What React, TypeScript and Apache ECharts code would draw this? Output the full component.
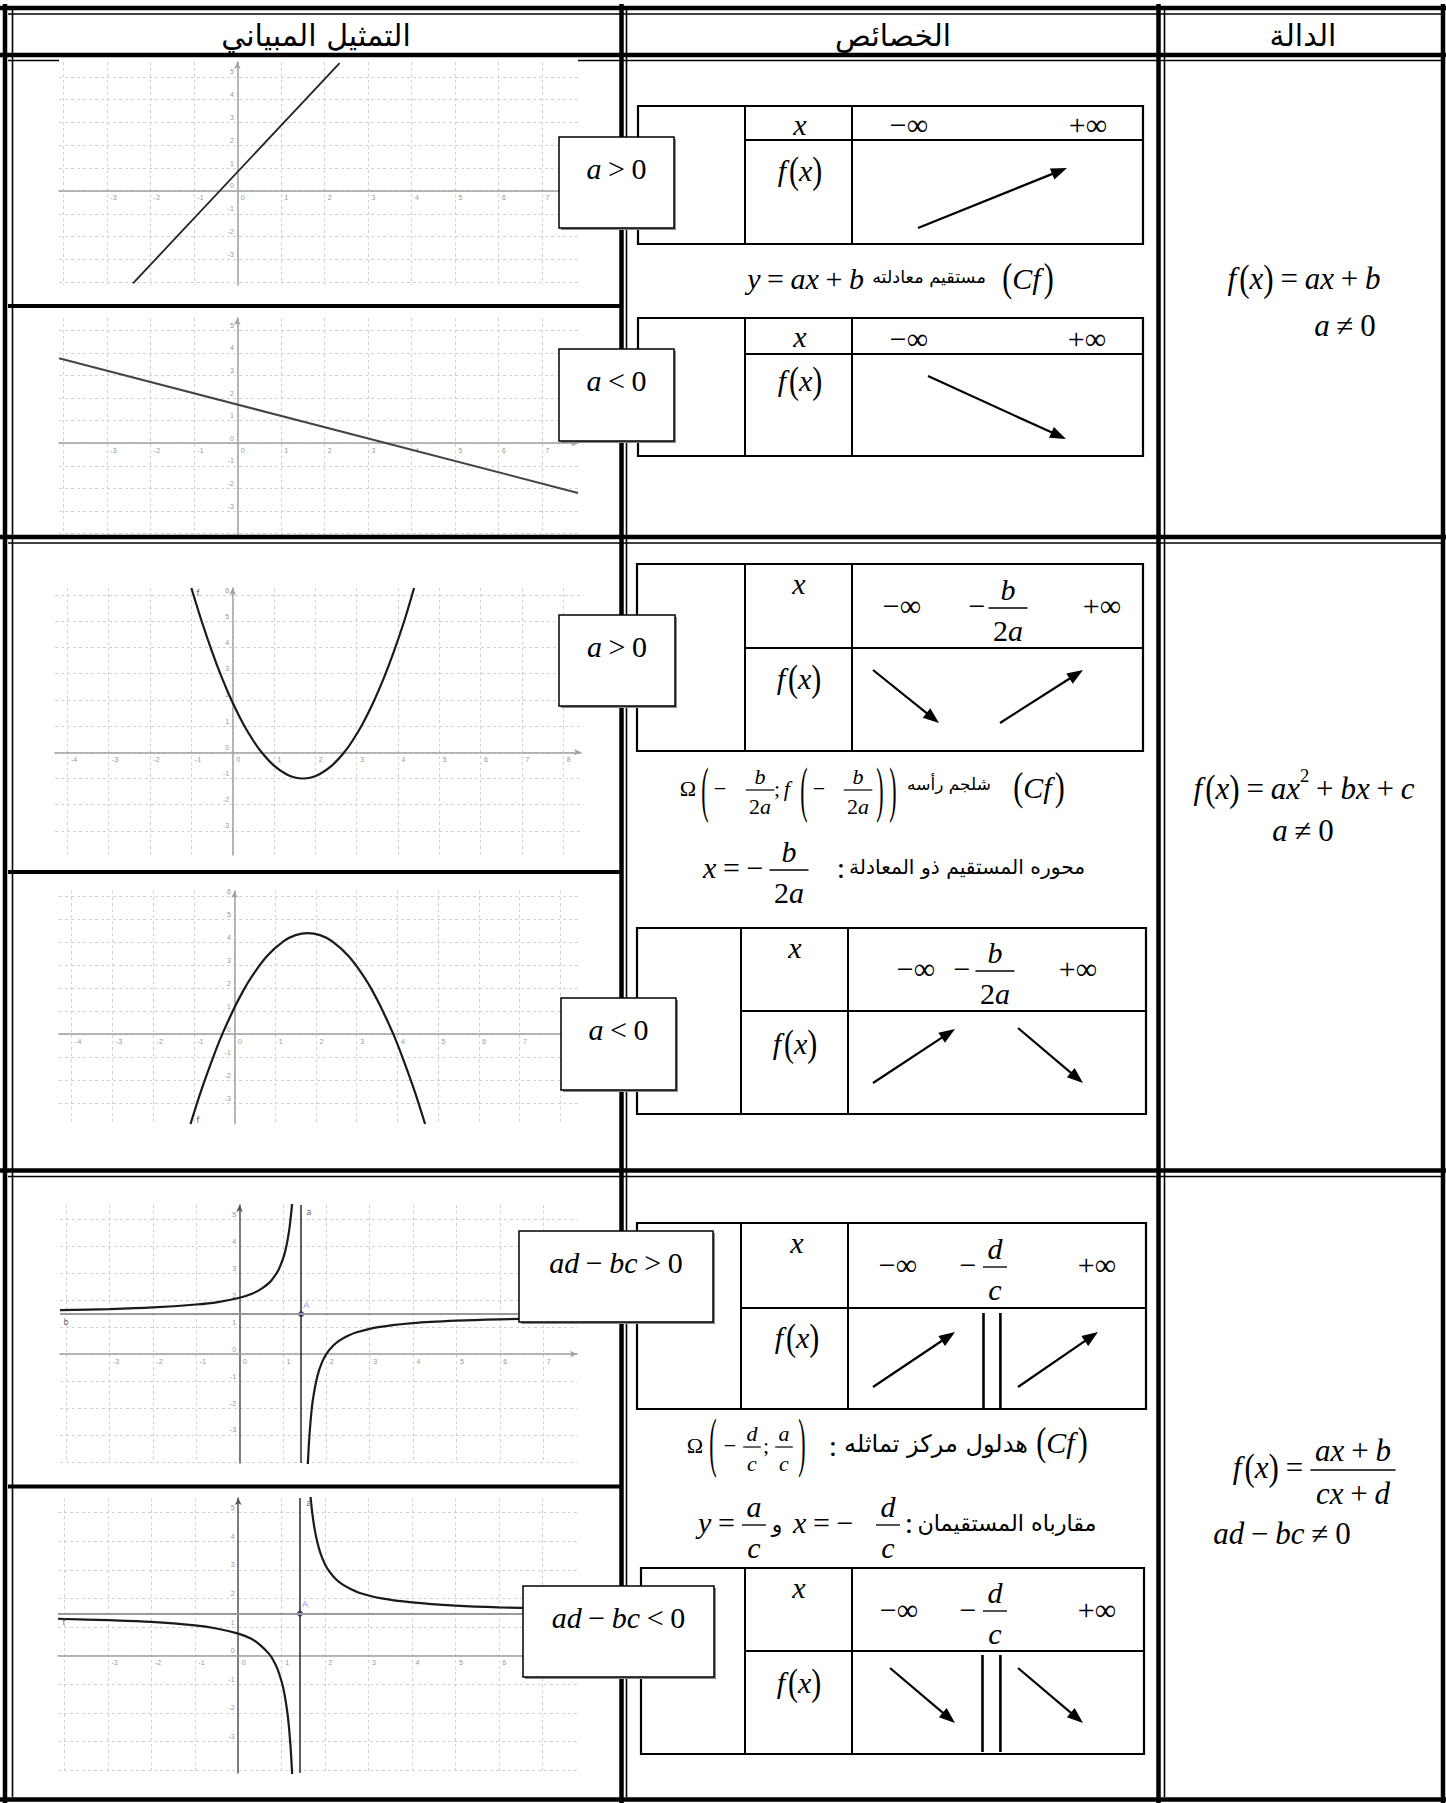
import React, { useEffect, useRef } from "react";
import * as echarts from "echarts";

// ---------------- DATA ----------------
const headers = ["التمثيل المبياني", "الخصائص", "الدالة"];
const signLabels = ["a > 0", "a < 0", "a > 0", "a < 0", "ad − bc > 0", "ad − bc < 0"];
const formulaLinear = "f(x) = ax + b";
const formulaQuad = "f(x) = ax² + bx + c";
const formulaHomNum = "ax + b";
const formulaHomDen = "cx + d";
const condA = "a ≠ 0";
const condHom = "ad − bc ≠ 0";
const limits = ["−∞", "+∞"];
const arLine = "مستقيم معادلته";
const arParabola = "شلجم رأسه";
const arAxis = "محوره المستقيم ذو المعادلة";
const arHyper = "هدلول مركز تماثله";
const arAsym = "مقارباه المستقيمان";
const arAnd = "و";

// tick labels of the six GeoGebra pictures
const xTicks1 = [-3, -2, -1, 0, 1, 2, 3, 4, 5, 6, 7];
const yTicks1 = [-3, -2, -1, 0, 1, 2, 3, 4, 5];
const xTicks3 = [-4, -3, -2, -1, 0, 1, 2, 3, 4, 5, 6, 7, 8];
const yTicks3 = [-3, -2, -1, 0, 1, 2, 3, 4, 5, 6];
const xTicks4 = [-4, -3, -2, -1, 0, 1, 2, 3, 4, 5, 6, 7];
const xTicks6 = [-3, -2, -1, 0, 1, 2, 3, 4, 5, 6];

const lineUp = [[-2.4, -4.05], [2.35, 5.6]];
const lineDown = [[-4.1, 3.76], [7.83, -2.2]];
const parabolaUp = [[-1.0, 6.27], [-0.75, 5.0], [-0.5, 3.84], [-0.25, 2.8], [0, 1.89], [0.25, 1.1], [0.5, 0.44], [0.7, 0], [1.0, -0.51], [1.3, -0.84], [1.5, -0.96], [1.7, -1], [1.9, -0.96], [2.1, -0.84], [2.4, -0.51], [2.7, 0], [2.9, 0.44], [3.15, 1.1], [3.4, 1.89], [3.65, 2.8], [3.9, 3.84], [4.15, 5.0], [4.39, 6.27]];
const parabolaDown = [[-1.08, -3.91], [-0.8, -2.36], [-0.5, -0.89], [-0.3, 0], [0, 1.16], [0.2, 1.84], [0.4, 2.44], [0.8, 3.4], [1.2, 4.04], [1.5, 4.31], [1.8, 4.4], [2.1, 4.31], [2.4, 4.04], [2.8, 3.4], [3.2, 2.44], [3.4, 1.84], [3.6, 1.16], [3.9, 0], [4.1, -0.89], [4.4, -2.36], [4.68, -3.91]];
const hypIncLeft = [[-4.14, 1.63], [-3, 1.67], [-2, 1.73], [-1, 1.84], [-0.5, 1.93], [0, 2.09], [0.3, 2.25], [0.5, 2.42], [0.7, 2.67], [0.8, 2.87], [0.9, 3.13], [1.0, 3.53], [1.05, 3.8], [1.1, 4.17], [1.15, 4.66], [1.2, 5.39], [1.22, 5.78]];
const hypIncRight = [[1.57, -4.25], [1.6, -3.3], [1.65, -2.26], [1.7, -1.59], [1.8, -0.78], [1.9, -0.31], [2.0, 0], [2.15, 0.3], [2.3, 0.5], [2.5, 0.68], [2.7, 0.81], [3.2, 1.0], [4, 1.15], [5, 1.24], [6, 1.29], [7.78, 1.35]];
const hypDecLeft = [[-4.15, 1.29], [-3, 1.24], [-2, 1.18], [-1, 1.06], [-0.5, 0.95], [0, 0.77], [0.3, 0.59], [0.5, 0.38], [0.7, 0.08], [0.8, -0.14], [0.9, -0.45], [1.0, -0.91], [1.05, -1.23], [1.1, -1.66], [1.15, -2.23], [1.2, -3.08], [1.24, -4.09], [1.26, -4.78]];
const hypDecRight = [[1.62, 6.47], [1.66, 5.64], [1.7, 5.04], [1.75, 4.5], [1.82, 3.97], [1.9, 3.55], [2.0, 3.19], [2.1, 2.94], [2.25, 2.67], [2.4, 2.49], [2.6, 2.32], [2.8, 2.19], [3.3, 2.0], [4, 1.86], [5, 1.75], [6, 1.69], [7.8, 1.63]];
const centerInc = [1.42, 1.48];
const centerDec = [1.42, 1.47];

// ---------------- LAYOUT ----------------
const graphBoxes = [
  { left: 59, top: 62, width: 519, height: 223, x: [-4.1, 7.83], y: [-4.12, 5.65], yc: "#a0a0a0", xt: xTicks1, yt: yTicks1 },
  { left: 59, top: 318, width: 519, height: 217, x: [-4.1, 7.83], y: [-4.06, 5.54], yc: "#a0a0a0", xt: xTicks1, yt: yTicks1 },
  { left: 55, top: 588, width: 526, height: 267, x: [-4.3, 8.43], y: [-3.92, 6.27], yc: "#a0a0a0", xt: xTicks3, yt: yTicks3 },
  { left: 59, top: 891, width: 520, height: 233, x: [-4.31, 8.46], y: [-3.91, 6.23], yc: "#a0a0a0", xt: xTicks4, yt: yTicks3 },
  { left: 60, top: 1205, width: 517, height: 258, x: [-4.14, 7.78], y: [-4.04, 5.53], yc: "#555", xt: xTicks1, yt: yTicks1 },
  { left: 58, top: 1498, width: 519, height: 275, x: [-4.15, 7.8], y: [-4.1, 5.51], yc: "#555", xt: xTicks6, yt: yTicks1 },
];

const SERIF = "'Liberation Serif','Times New Roman',serif";
const ARAB = "'DejaVu Sans',sans-serif";

let _ctx: any = null;
function mw(text: string, font: string) {
  if (!_ctx) _ctx = document.createElement("canvas").getContext("2d");
  _ctx.font = font;
  return _ctx.measureText(text).width;
}
function ff(size: number, italic: boolean) {
  return `${italic ? "italic " : ""}${size.toFixed(1)}px ${SERIF}`;
}

function buildOption() {
  const els: any[] = [];
  const L = (x1: number, y1: number, x2: number, y2: number, w = 2, c = "#000", z = 1) =>
    els.push({ type: "line", z, silent: true, shape: { x1, y1, x2, y2 }, style: { stroke: c, lineWidth: w } });
  const R = (x: number, y: number, w: number, h: number, stroke: any, fill: any, lw = 2, z = 1) =>
    els.push({ type: "rect", z, silent: true, shape: { x, y, width: w, height: h }, style: { stroke, fill, lineWidth: lw } });
  const T = (text: string, x: number, y: number, font: string, align = "left", z = 20, fill = "#000", extra: any = {}) =>
    els.push({
      type: "text", z, silent: true, x, y,
      style: { text, font, fill, align, verticalAlign: "middle", textAlign: align, textVerticalAlign: "middle" },
      ...extra,
    });

  const OPS = "=+−<>≠";
  const pieces = (src: string, size: number) => {
    const out: any[] = [];
    for (const ch of Array.from(src)) {
      if (ch === " ") continue;
      const it = /[a-zA-Z]/.test(ch);
      let sz = size, dy = 0, padL = 0, padR = 0;
      let t = ch;
      if (ch === "²") { sz = size * 0.6; dy = -0.4 * size; t = "2"; }
      if (OPS.includes(ch)) {
        const prev = out[out.length - 1];
        if (prev && !OPS.includes(prev.t)) { padL = padR = 0.22 * size; }
      }
      if (ch === "f") padR = 0.1 * size;
      const w = mw(t, ff(sz, it));
      out.push({ t, it, sz, dy, w, padL, padR, paren: ch === "(" || ch === ")" });
    }
    return out;
  };
  const widthOf = (src: string, size: number) => pieces(src, size).reduce((s, p) => s + p.padL + p.w + p.padR, 0);
  const flow = (src: string, x: number, y: number, size: number, align = "center", pScale = 1.25) => {
    const ps = pieces(src, size);
    const total = ps.reduce((s, p) => s + p.padL + p.w + p.padR, 0);
    let cx = align === "center" ? x - total / 2 : align === "right" ? x - total : x;
    for (const p of ps) {
      cx += p.padL;
      T(p.t, cx, y + p.dy, ff(p.sz, p.it), "left", 20, "#000", p.paren ? { scaleY: pScale } : {});
      cx += p.w + p.padR;
    }
  };
  const frac = (num: string, den: string, cx: number, by: number, size: number) => {
    const w = Math.max(widthOf(num, size), widthOf(den, size)) + 0.3 * size;
    L(cx - w / 2, by, cx + w / 2, by, Math.max(1.2, size * 0.045), "#000", 20);
    flow(num, cx, by - 0.62 * size, size, "center");
    flow(den, cx, by + 0.75 * size, size, "center");
  };
  const bigParen = (ch: string, cx: number, y: number, size: number, sy: number) =>
    T(ch, cx, y, ff(size, false), "center", 20, "#000", { scaleY: sy });
  const ar = (text: string, cx: number, cy: number, targetW: number, maxSize: number) => {
    const w = mw(text, `20px ${ARAB}`);
    const size = Math.min(maxSize, (20 * targetW) / w);
    T(text, cx, cy, `${size.toFixed(1)}px ${ARAB}`, "center");
  };
  const arrow = (x1: number, y1: number, x2: number, y2: number) => {
    const dx = x2 - x1, dy = y2 - y1, len = Math.hypot(dx, dy), ux = dx / len, uy = dy / len;
    const hl = 16, hw = 6;
    const bx = x2 - ux * hl, by = y2 - uy * hl;
    L(x1, y1, bx + ux * 3, by + uy * 3, 2.2, "#000", 15);
    els.push({ type: "polygon", z: 15, silent: true, shape: { points: [[x2, y2], [bx - uy * hw, by + ux * hw], [bx + uy * hw, by - ux * hw]] }, style: { fill: "#000" } });
  };
  const table = (x: number, y: number, w: number, h: number, c1: number, c2: number, hy: number) => {
    R(x, y, w, h, "#000", "none", 2.2, 5);
    L(c1, y, c1, y + h, 2, "#000", 5);
    L(c2, y, c2, y + h, 2, "#000", 5);
    L(c1, hy, x + w, hy, 2, "#000", 5);
  };
  const box = (x: number, y: number, w: number, h: number, label: string) => {
    R(x + 2, y + 2, w, h, "none", "#8a8a8a", 0, 30);
    R(x, y, w, h, "#000", "#fff", 1.5, 31);
    const ps = pieces(label, 30);
    const total = ps.reduce((s, p) => s + p.padL + p.w + p.padR, 0);
    let cx = x + w / 2 - total / 2;
    for (const p of ps) {
      cx += p.padL;
      T(p.t, cx, y + 31, ff(p.sz, p.it), "left", 32);
      cx += p.w + p.padR;
    }
  };

  // ---- main table frame ----
  const TK = 4.5, TN = 1.6;
  [8, 55, 537, 1170.5, 1799.5].forEach((y) => L(0, y, 1446, y, TK));
  [5, 621.5, 1158.5, 1443].forEach((x) => L(x, 4, x, 1803, TK));
  L(8, 14, 1441, 14, TN);
  L(8, 60.5, 59, 60.5, TN); L(578, 60.5, 1441, 60.5, TN);
  [543, 1176.5].forEach((y) => L(8, y, 1441, y, TN));
  [12.5, 626.5, 1164.5].forEach((x) => L(x, 10, x, 1797, TN));
  [306, 872, 1486.5].forEach((y) => L(8, y, 620, y, 4));

  // ---- headers ----
  ar(headers[0], 316, 35, 209, 30);
  ar(headers[1], 893, 35, 116, 30);
  ar(headers[2], 1303, 35, 68, 30);

  // ---- row 1 : linear ----
  table(638, 106, 505, 138, 745, 852, 140);
  flow("x", 800, 124, 30); flow(limits[0], 909, 124, 30); flow(limits[1], 1088, 124, 30);
  flow("f(x)", 800, 170, 30); arrow(918, 228, 1067, 168);
  table(638, 318, 505, 138, 745, 852, 354);
  flow("x", 800, 336, 30); flow(limits[0], 909, 338, 30); flow(limits[1], 1087, 338, 30);
  flow("f(x)", 800, 380, 30); arrow(928, 376, 1066, 439);
  flow("y = ax + b", 864, 278, 30, "right");
  ar(arLine, 929, 277, 114, 24);
  flow("(Cf)", 1028, 278, 30, "center", 1.3);
  flow(formulaLinear, 1304, 278, 31);
  flow(condA, 1345, 325, 31);

  // ---- row 2 : quadratic ----
  table(637, 564, 506, 187, 745, 852, 648);
  flow("x", 799, 583, 30); flow(limits[0], 902, 605, 30); flow("−", 977, 605, 30);
  frac("b", "2a", 1008, 608, 30); flow(limits[1], 1102, 605, 30);
  flow("f(x)", 799, 678, 30);
  arrow(873, 670, 939, 723); arrow(1000, 723, 1083, 670);
  // vertex caption
  flow("Ω", 688, 788, 22); bigParen("(", 705, 789, 22, 2.8); flow("−", 720, 788, 22);
  frac("b", "2a", 760, 790, 22); flow(";", 777, 788, 22); flow("f", 788, 788, 22);
  bigParen("(", 804, 789, 22, 2.8); flow("−", 819, 788, 22); frac("b", "2a", 858, 790, 22);
  bigParen(")", 880, 789, 22, 2.8); bigParen(")", 893, 789, 22, 2.8);
  ar(arParabola, 949, 784, 84, 24);
  flow("(Cf)", 1039, 787, 30, "center", 1.3);
  // axis caption
  flow("x = −", 703, 867, 30, "left"); frac("b", "2a", 789, 870, 30); flow(":", 841, 867, 30);
  ar(arAxis, 967, 867, 237, 24);
  table(637, 928, 509, 186, 741, 848, 1011);
  flow("x", 795, 947, 30); flow(limits[0], 916, 968, 30); flow("−", 962, 968, 30);
  frac("b", "2a", 995, 971, 30); flow(limits[1], 1078, 968, 30);
  flow("f(x)", 795, 1043, 30);
  arrow(873, 1083, 955, 1029); arrow(1018, 1028, 1083, 1083);
  flow(formulaQuad, 1304, 788, 31);
  flow(condA, 1303, 830, 31);

  // ---- row 3 : homographic ----
  table(637, 1223, 509, 186, 741, 848, 1308);
  flow("x", 797, 1242, 30); flow(limits[0], 898, 1264, 30); flow("−", 968, 1264, 30);
  frac("d", "c", 995, 1267, 30); flow(limits[1], 1097, 1264, 30);
  flow("f(x)", 797, 1337, 30);
  L(983.5, 1313, 983.5, 1409, 2.6, "#000", 6); L(1000.4, 1313, 1000.4, 1409, 2.6, "#000", 6);
  arrow(873, 1387, 955, 1332); arrow(1018, 1387, 1098, 1332);
  // center caption
  flow("Ω", 695, 1445, 22); bigParen("(", 713, 1442, 22, 3.0); flow("−", 730, 1445, 22);
  frac("d", "c", 752, 1447, 22); flow(";", 766, 1445, 22); frac("a", "c", 784, 1447, 22);
  bigParen(")", 802, 1442, 22, 3.0); flow(":", 833, 1445, 30);
  ar(arHyper, 936, 1444, 184, 24);
  flow("(Cf)", 1062, 1442, 30, "center", 1.3);
  // asymptotes caption
  flow("y =", 698, 1522, 30, "left"); frac("a", "c", 754, 1525, 30);
  T(arAnd, 777, 1524, `22px ${ARAB}`, "center");
  flow("x = −", 793, 1522, 30, "left"); frac("d", "c", 888, 1525, 30); flow(":", 909, 1522, 30);
  ar(arAsym, 1007, 1523, 179, 24);
  table(641, 1568, 503, 186, 745, 852, 1651);
  flow("x", 799, 1587, 30); flow(limits[0], 899, 1609, 30); flow("−", 968, 1609, 30);
  frac("d", "c", 995, 1611, 30); flow(limits[1], 1097, 1609, 30);
  flow("f(x)", 799, 1682, 30);
  L(982.5, 1655, 982.5, 1752, 2.6, "#000", 6); L(1000.4, 1655, 1000.4, 1752, 2.6, "#000", 6);
  arrow(890, 1668, 955, 1723); arrow(1018, 1668, 1083, 1723);
  flow("f(x) =", 1310, 1467, 31, "right");
  frac(formulaHomNum, formulaHomDen, 1353, 1470, 31);
  flow(condHom, 1282, 1533, 31);

  // ---- sign boxes ----
  box(559, 137, 115, 91, signLabels[0]);
  box(559, 349, 115, 92, signLabels[1]);
  box(559, 615, 116, 91, signLabels[2]);
  box(561, 998, 115, 92, signLabels[3]);
  box(519, 1231, 194, 91, signLabels[4]);
  box(523, 1586, 191, 91, signLabels[5]);

  // ---- small GeoGebra object labels ----
  const tiny = `8px 'DejaVu Sans',sans-serif`;
  T("f", 198, 593, tiny, "center", 10, "#666");
  T("f", 198, 1120, tiny, "center", 10, "#666");
  T("a", 309, 1212, tiny, "center", 10, "#666");
  T("b", 66, 1322, tiny, "center", 10, "#666");
  T("a", 309, 1503, tiny, "center", 10, "#666");
  T("f", 64, 1622, tiny, "center", 10, "#666");

  const split = { show: true, showMinLine: false, showMaxLine: false, lineStyle: { color: "#d2d2d2", width: 1, type: [3, 3] } };

  const curve = (i: number, data: number[][], smooth: any, color = "#1a1a1a", width = 2.2) => ({
    type: "line", xAxisIndex: i, yAxisIndex: i, data, showSymbol: false, symbol: "none", smooth,
    clip: true, silent: true, z: 3, lineStyle: { color, width },
  });
  const center = (i: number, c: number[]) => ({
    type: "scatter", xAxisIndex: i, yAxisIndex: i, data: [c], symbolSize: 6, silent: true, z: 4,
    itemStyle: { color: "#1f2a9a" },
    label: { show: true, formatter: "A", position: [5, -11], fontSize: 9, color: "#5a6ae0" },
    markLine: {
      silent: true, symbol: ["none", "none"], label: { show: false },
      data: [
        { xAxis: c[0], lineStyle: { color: "#2a2a2a", width: 1.5, type: "solid" } },
        { yAxis: c[1], lineStyle: { color: "#9a9a9a", width: 2, type: "solid" } },
      ],
    },
  });
  const tickLabels = (i: number, g: any) => [
    {
      type: "scatter", xAxisIndex: i, yAxisIndex: i, silent: true, z: 2, symbolSize: 1,
      itemStyle: { color: "rgba(0,0,0,0)" },
      data: g.xt.map((v: number) => [v, 0]),
      label: { show: true, position: "right", distance: 3, offset: [0, 7], fontSize: 7, color: "#777", formatter: (p: any) => String(p.value[0]) },
    },
    {
      type: "scatter", xAxisIndex: i, yAxisIndex: i, silent: true, z: 2, symbolSize: 1,
      itemStyle: { color: "rgba(0,0,0,0)" },
      data: g.yt.map((v: number) => [0, v]),
      label: { show: true, position: "left", distance: 3, offset: [0, -5], fontSize: 7, color: "#777", formatter: (p: any) => String(p.value[1]) },
    },
  ];

  return {
    animation: false,
    backgroundColor: "#fff",
    grid: graphBoxes.map((g) => ({ left: g.left, top: g.top, width: g.width, height: g.height, containLabel: false })),
    xAxis: graphBoxes.map((g, i) => ({
      type: "value", gridIndex: i, min: g.x[0], max: g.x[1], minInterval: 1, maxInterval: 1, splitNumber: 12,
      axisLine: { onZero: true, symbol: ["none", "arrow"], symbolSize: [5, 7], lineStyle: { color: "#a0a0a0", width: 1.5 } },
      axisTick: { show: false },
      axisLabel: { show: false },
      splitLine: split,
    })),
    yAxis: graphBoxes.map((g, i) => ({
      type: "value", gridIndex: i, min: g.y[0], max: g.y[1], minInterval: 1, maxInterval: 1, splitNumber: 10,
      axisLine: { onZero: true, symbol: ["none", "arrow"], symbolSize: [5, 7], lineStyle: { color: g.yc, width: 1.5 } },
      axisTick: { show: false },
      axisLabel: { show: false },
      splitLine: split,
    })),
    series: [
      ...graphBoxes.flatMap((g, i) => tickLabels(i, g)),
      curve(0, lineUp, false, "#222", 1.8),
      curve(1, lineDown, false, "#444", 2),
      curve(2, parabolaUp, 0.4),
      curve(3, parabolaDown, 0.4),
      curve(4, hypIncLeft, 0.3),
      curve(4, hypIncRight, 0.3),
      center(4, centerInc),
      curve(5, hypDecLeft, 0.3),
      curve(5, hypDecRight, 0.3),
      center(5, centerDec),
    ],
    graphic: { elements: els },
  };
}

export default function App() {
  const ref = useRef<HTMLDivElement>(null);
  useEffect(() => {
    document.body.style.margin = "0";
    const chart = echarts.init(ref.current!, null, { renderer: "svg", width: 1446, height: 1803 });
    chart.setOption(buildOption() as any);
    return () => chart.dispose();
  }, []);
  return <div ref={ref} style={{ position: "absolute", left: 0, top: 0, width: 1446, height: 1803, background: "#fff" }} />;
}
